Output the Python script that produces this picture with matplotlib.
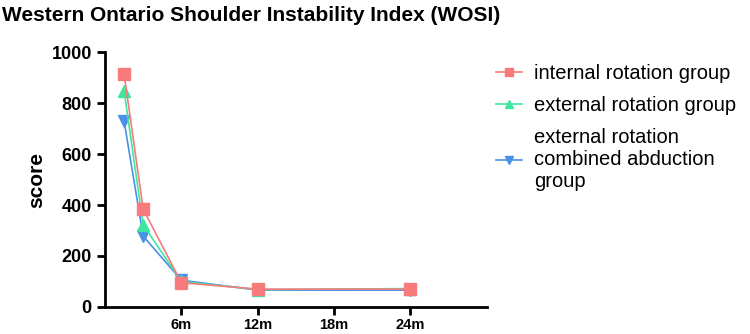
import matplotlib
matplotlib.use("Agg")
import matplotlib.pyplot as plt

plt.rcParams['font.family'] = ['Liberation Sans', 'DejaVu Sans']

# time points (months)
months = [1.5, 3, 6, 12, 24]
internal = [914, 384, 95, 70, 70]
external = [848, 322, 100, 68, 72]
combined = [729, 278, 105, 66, 66]

tick_pos = [6, 12, 18, 24]
tick_labels = ['6m', '12m', '18m', '24m']

fig = plt.figure(figsize=(7.5, 3.34), dpi=100)
ax = fig.add_axes([0.14, 0.081, 0.509, 0.763])

l1, = ax.plot(months, internal, color='#F77B7B', marker='s', markersize=8, lw=1.2,
              label='internal rotation group', zorder=4)
l2, = ax.plot(months, external, color='#3EE6A0', marker='^', markersize=8, lw=1.2,
              label='external rotation group', zorder=3)
l3, = ax.plot(months, combined, color='#4A8FE8', marker='v', markersize=8, lw=1.2,
              label='external rotation\ncombined abduction\ngroup', zorder=2)

ax.set_xlim(0, 30)
ax.set_ylim(0, 1000)
ax.set_xticks(tick_pos)
ax.set_xticklabels(tick_labels, fontsize=10.5, fontweight='bold')
ax.set_yticks([0, 200, 400, 600, 800, 1000])
ax.tick_params(axis='y', labelsize=13, width=2, length=6)
ax.tick_params(axis='x', width=2, length=6, pad=2)
for lab in ax.get_yticklabels():
    lab.set_fontweight('bold')
for s in ['top', 'right']:
    ax.spines[s].set_visible(False)
for s in ['left', 'bottom']:
    ax.spines[s].set_linewidth(2)
ax.set_ylabel('score', fontsize=15, fontweight='bold')

fig.text(0.003, 0.955, 'Western Ontario Shoulder Instability Index (WOSI)',
         fontsize=15, fontweight='bold', va='center')

fig.legend(handles=[l1, l2, l3], loc='upper left', bbox_to_anchor=(0.637, 0.862),
           frameon=False, fontsize=14.5, handlelength=1.3, handletextpad=0.6,
           labelspacing=0.65, markerscale=0.75)

fig.savefig('out.png', dpi=100)
